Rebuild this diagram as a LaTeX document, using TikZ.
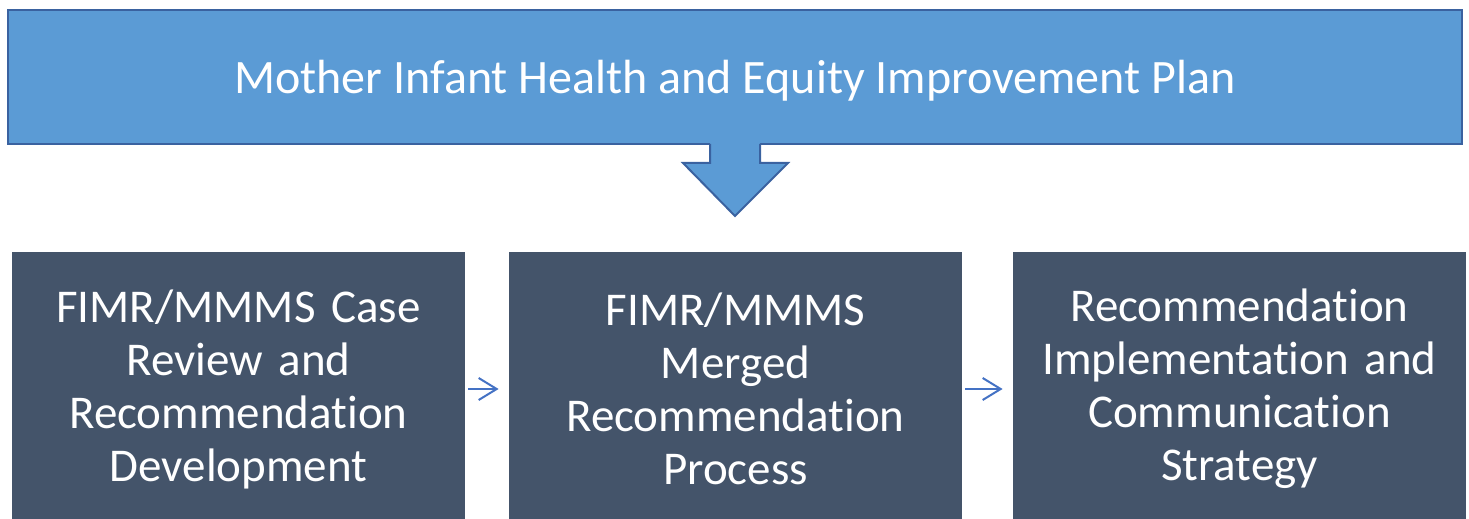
\documentclass[tikz,border=0pt]{standalone}
\usepackage{fontspec}
\setmainfont{Carlito}[Ligatures=NoCommon]
\usepackage{xcolor}
\usetikzlibrary{arrows.meta}
\definecolor{planblue}{HTML}{5B9BD5}
\definecolor{planedge}{HTML}{3A62A0}
\definecolor{stepgray}{HTML}{44546A}
\definecolor{linkblue}{HTML}{4472C4}
\tikzstyle{planbox} = [rectangle, minimum width=727pt, minimum height=67pt, text depth=0pt, draw=planedge, line width=1pt, fill=planblue, text=white, font=\fontsize{24}{29}\selectfont]
\tikzstyle{stepbox} = [rectangle, minimum width=226.5pt, minimum height=137pt, inner xsep=0pt, text width=226.5pt, align=center, fill=stepgray, text=white, font=\fontsize{23.5}{26.5}\selectfont]
\tikzstyle{link} = [line width=1pt, draw=linkblue, -{Straight Barb[length=9pt,width=11pt]}, shorten <=1.5pt, shorten >=5pt]

\begin{document}
\begin{tikzpicture}[x=0.5pt,y=-0.5pt]
  \useasboundingbox (0,0) rectangle (1469,519);

  % plan on top
  \node[planbox] (plan) at (735,77) {Mother Infant Health and Equity Improvement Plan};

  % big arrow down from the plan
  \fill[planblue] (710,140) -- (710,163) -- (683,163) -- (735,216) -- (788,163) -- (760,163) -- (760,140) -- cycle;
  \draw[planedge, line width=1pt, line join=miter] (710,144) -- (710,163) -- (683,163) -- (735,216) -- (788,163) -- (760,163) -- (760,144);

  % the three steps (bottom edge runs off the page)
  \node[stepbox] (review) at (238.5,389) {FIMR/MMMS Case\\Review and\\Recommendation\\Development};
  \node[stepbox] (merged) at (735.5,389) {FIMR/MMMS\\Merged\\Recommendation\\Process};
  \node[stepbox] (impl) at (1239.5,389) {Recommendation\\Implementation and\\Communication\\Strategy};

  \draw[link] (review.east) -- (merged.west);
  \draw[link] (merged.east) -- (impl.west);
\end{tikzpicture}
\end{document}
